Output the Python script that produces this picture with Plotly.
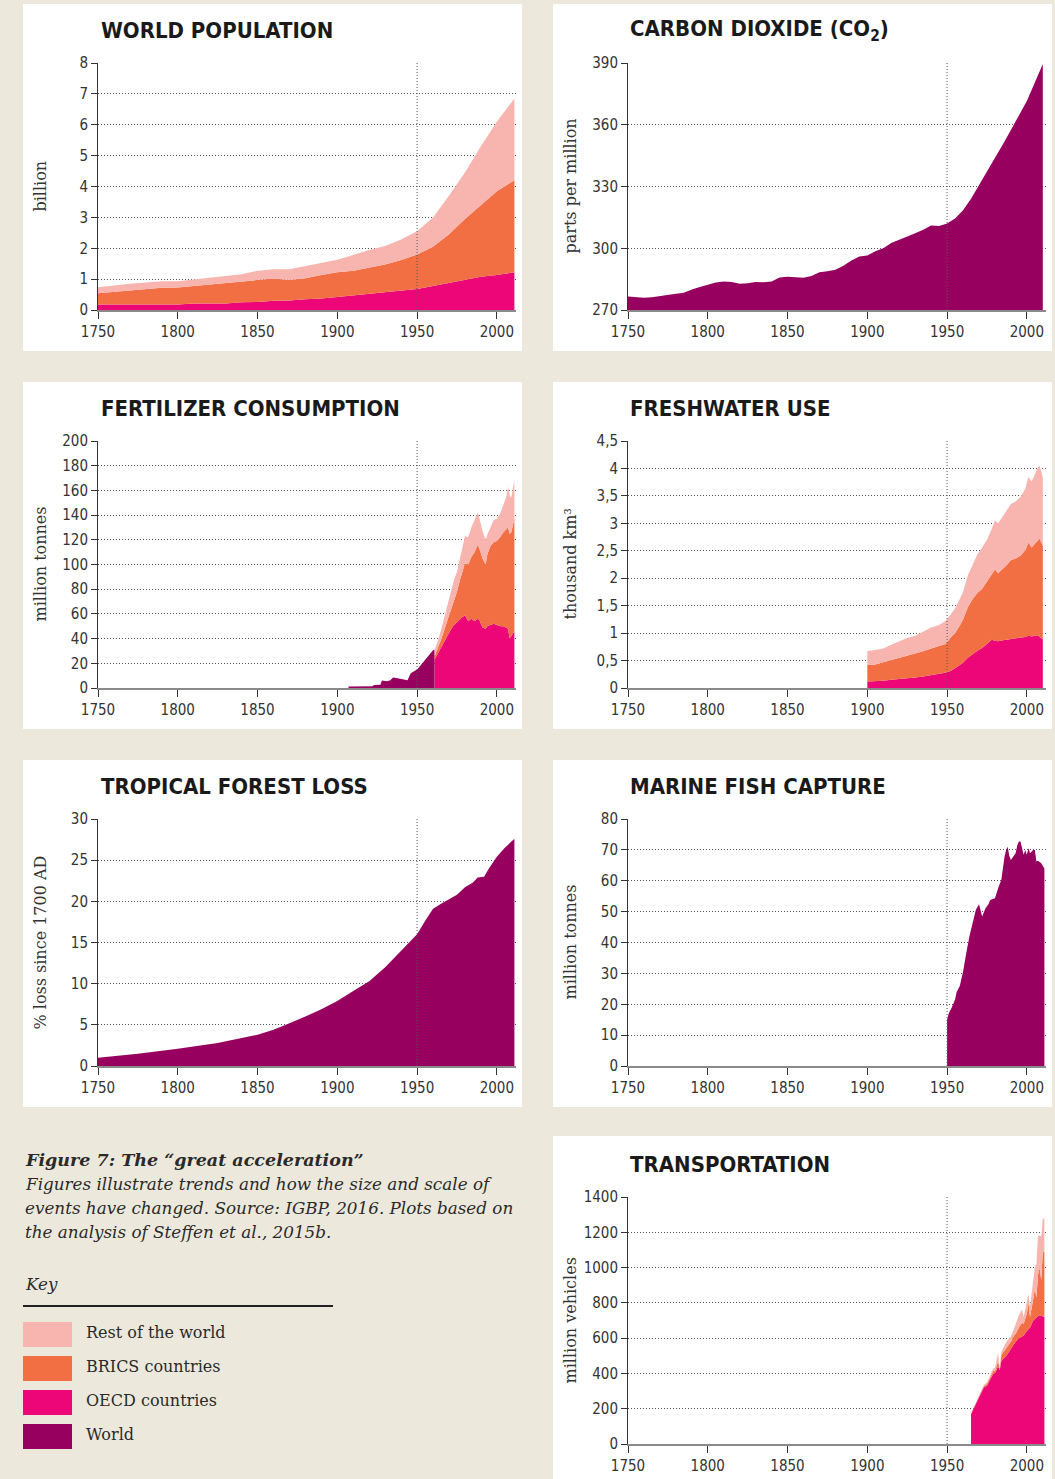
import plotly.graph_objects as go

# ---------------- DATA ----------------
series_names = ["Rest of the world", "BRICS countries", "OECD countries", "World"]
series_colors = ["#F8B4AF", "#F26E43", "#EC0677", "#98005F"]

# World population (billion)
pop_years = [1750, 1760, 1770, 1780, 1790, 1800, 1810, 1820, 1830, 1840, 1850, 1860, 1870, 1880,
             1890, 1900, 1910, 1920, 1930, 1940, 1950, 1960, 1970, 1980, 1990, 2000, 2011]
pop_oecd = [0.18, 0.18, 0.18, 0.18, 0.18, 0.18, 0.21, 0.21, 0.21, 0.25, 0.26, 0.30, 0.31, 0.35,
            0.37, 0.42, 0.47, 0.52, 0.57, 0.62, 0.68, 0.78, 0.88, 0.99, 1.08, 1.13, 1.22]
pop_brics = [0.36, 0.41, 0.46, 0.50, 0.54, 0.55, 0.57, 0.62, 0.66, 0.67, 0.71, 0.72, 0.66, 0.68,
             0.76, 0.80, 0.80, 0.85, 0.90, 1.00, 1.12, 1.27, 1.57, 1.96, 2.32, 2.72, 2.98]
pop_rest = [0.20, 0.21, 0.21, 0.21, 0.21, 0.20, 0.21, 0.21, 0.23, 0.24, 0.30, 0.30, 0.35, 0.39,
            0.40, 0.41, 0.51, 0.57, 0.60, 0.66, 0.75, 0.95, 1.25, 1.50, 1.90, 2.25, 2.65]

# Carbon dioxide (ppm)
co2_years = [1750, 1755, 1760, 1765, 1770, 1775, 1780, 1785, 1790, 1795, 1800, 1805, 1810, 1815,
             1820, 1825, 1830, 1835, 1840, 1845, 1850, 1855, 1860, 1865, 1870, 1875, 1880, 1885,
             1890, 1895, 1900, 1905, 1910, 1915, 1920, 1925, 1930, 1935, 1940, 1945, 1950, 1955,
             1960, 1965, 1970, 1975, 1980, 1985, 1990, 1995, 2000, 2005, 2010]
co2_ppm = [276.5, 276.3, 276.0, 276.2, 276.8, 277.6, 277.9, 278.4, 280.0, 281.2, 282.3, 283.3,
           283.8, 283.6, 282.8, 283.0, 283.6, 283.5, 283.8, 285.8, 286.2, 285.8, 285.7, 286.5,
           288.3, 288.8, 289.5, 291.5, 294.0, 296.0, 296.5, 298.5, 300.0, 302.5, 304.0, 305.5,
           307.3, 309.0, 311.0, 310.8, 312.0, 314.5, 318.5, 324.0, 330.5, 337.0, 344.0, 350.5,
           357.5, 364.5, 371.5, 380.5, 389.5]

# Fertilizer consumption (million tonnes)
fert_world_years = [1907, 1912, 1917, 1922, 1923, 1927, 1928, 1931, 1933, 1935, 1937, 1940, 1942,
                    1944, 1946, 1948, 1950, 1952, 1954, 1956, 1958, 1960, 1961]
fert_world = [1.2, 1.3, 1.3, 1.4, 2.5, 2.6, 6.0, 5.5, 6.0, 8.6, 8.0, 7.0, 6.5, 6.2, 12.0, 13.5,
              15.0, 18.0, 21.0, 24.5, 27.0, 30.5, 31.0]
fert_years = [1961, 1963, 1965, 1967, 1969, 1971, 1973, 1975, 1977, 1979, 1980, 1982, 1984, 1986,
              1988, 1989, 1990, 1991, 1993, 1994, 1996, 1998, 2000, 2002, 2004, 2006, 2007, 2008,
              2009, 2011]
fert_oecd = [23, 28, 33, 38, 43, 47, 51, 53, 56, 58, 59, 54, 56, 54, 56, 55, 52, 49, 48, 50, 51,
             52, 51, 50, 50, 49, 48, 40, 42, 46]
fert_brics = [3, 4, 6, 9, 12, 15, 20, 25, 32, 38, 42, 46, 50, 56, 60, 58, 57, 56, 52, 58, 64,
              66, 68, 72, 76, 80, 82, 85, 84, 91]
fert_rest = [5, 6, 8, 10, 12, 14, 16, 16, 18, 20, 22, 22, 24, 26, 26, 25, 24, 22, 20, 16, 15, 18,
             18, 19, 22, 26, 33, 31, 28, 31]

# Freshwater use (thousand km3)
water_years = [1900, 1905, 1910, 1915, 1920, 1925, 1930, 1935, 1940, 1945, 1949, 1952, 1955, 1958,
               1960, 1963, 1966, 1969, 1972, 1975, 1978, 1980, 1982, 1985, 1988, 1990, 1993, 1996,
               1999, 2001, 2003, 2005, 2007, 2008, 2010]
water_oecd = [0.12, 0.12, 0.13, 0.15, 0.16, 0.18, 0.19, 0.21, 0.23, 0.26, 0.28, 0.31, 0.36, 0.42,
              0.46, 0.55, 0.62, 0.68, 0.73, 0.80, 0.88, 0.86, 0.85, 0.87, 0.88, 0.90, 0.90, 0.91,
              0.93, 0.95, 0.94, 0.95, 0.96, 0.93, 0.89]
water_brics = [0.30, 0.31, 0.34, 0.36, 0.39, 0.41, 0.43, 0.46, 0.49, 0.50, 0.52, 0.60, 0.64, 0.72,
               0.79, 0.92, 1.00, 1.05, 1.08, 1.14, 1.20, 1.30, 1.24, 1.30, 1.38, 1.43, 1.46, 1.50,
               1.58, 1.70, 1.62, 1.68, 1.74, 1.79, 1.70]
water_rest = [0.25, 0.26, 0.25, 0.28, 0.30, 0.32, 0.33, 0.35, 0.38, 0.39, 0.42, 0.42, 0.45, 0.48,
              0.50, 0.58, 0.62, 0.70, 0.75, 0.76, 0.82, 0.89, 0.91, 0.96, 1.00, 1.02, 1.04, 1.07,
              1.12, 1.20, 1.20, 1.27, 1.32, 1.33, 1.25]

# Tropical forest loss (% loss since 1700 AD)
forest_years = [1750, 1775, 1800, 1825, 1850, 1860, 1870, 1880, 1890, 1900, 1910, 1920, 1930, 1940,
                1945, 1950, 1955, 1960, 1965, 1970, 1975, 1980, 1985, 1988, 1992, 1995, 2000, 2005,
                2011]
forest_loss = [1.0, 1.5, 2.1, 2.8, 3.8, 4.4, 5.2, 6.0, 6.9, 7.9, 9.1, 10.3, 12.0, 14.0, 15.0, 16.0,
               17.6, 19.1, 19.7, 20.2, 20.8, 21.7, 22.3, 22.9, 23.0, 24.0, 25.4, 26.5, 27.6]

# Marine fish capture (million tonnes)
fish_years = [1950, 1951, 1953, 1955, 1956, 1958, 1960, 1961, 1962, 1964, 1966, 1967, 1968, 1970,
              1971, 1972, 1974, 1976, 1977, 1980, 1982, 1984, 1986, 1987, 1988, 1989, 1990, 1991,
              1992, 1993, 1994, 1995, 1996, 1997, 1998, 1999, 2000, 2001, 2002, 2003, 2004, 2005,
              2006, 2007, 2009, 2011]
fish_capture = [15.0, 17.0, 19.0, 21.5, 24.0, 26.0, 30.5, 33.0, 36.5, 42.0, 46.0, 47.8, 50.5, 52.4,
                50.0, 48.4, 51.0, 52.5, 53.8, 54.3, 57.6, 60.3, 67.8, 70.0, 71.0, 68.0, 66.7, 67.5,
                68.4, 69.0, 71.5, 72.7, 72.7, 70.0, 68.4, 70.0, 68.4, 70.5, 68.9, 69.5, 70.0, 70.0,
                66.2, 66.5, 65.7, 64.0]

# Transportation (million vehicles)
trans_years = [1965, 1967, 1970, 1973, 1975, 1977, 1979, 1980, 1982, 1983, 1984, 1986, 1988, 1990,
               1992, 1993, 1995, 1997, 1998, 2000, 2001, 2002, 2004, 2005, 2006, 2007, 2008, 2009,
               2010, 2011]
trans_oecd = [170, 210, 260, 320, 330, 370, 400, 400, 440, 420, 470, 490, 510, 540, 570, 580, 600,
              612, 615, 640, 650, 660, 700, 710, 720, 725, 730, 728, 722, 720]
trans_brics = [2, 3, 5, 7, 10, 12, 15, 12, 30, 2, 35, 40, 45, 40, 45, 45, 60, 75, 65, 100, 150, 60,
               120, 170, 110, 235, 270, 200, 370, 365]
trans_rest = [3, 4, 5, 8, 10, 12, 15, 18, 47, 0, 15, 30, 35, 30, 50, 55, 70, 75, 40, 60, 50, 60,
              120, 120, 190, 220, 180, 250, 190, 185]

x_ticks = [1750, 1800, 1850, 1900, 1950, 2000]
x_range = [1750, 2012]

# ---------------- LAYOUT HELPERS ----------------
W, H = 1055, 1479
BG = "#ECE9DC"
COND = "DejaVu Sans Condensed, Liberation Sans Narrow, Arial Narrow, sans-serif"
TICK_FONT = dict(family=COND, size=15, color="#333333")
TITLE_FONT = dict(family=COND, size=22, color="#1a1a1a", weight="bold")
SERIF = "DejaVu Serif, Georgia, serif"
DOT = "1px,2px"


def px(x):
    return x / W


def py(y):
    return 1 - y / H


left_dom = [px(98), px(516)]
right_dom = [px(628), px(1046)]
rows = [(63, 310), (441, 688), (819, 1066), (1197, 1444)]

panels = [
    # (col, row, title, ytitle, yrange, ytickvals, yticktext)
    ("L", 0, "WORLD POPULATION", "billion", [0, 8], list(range(0, 9)), None),
    ("R", 0, "CARBON DIOXIDE (CO<sub>2</sub>)", "parts per million", [270, 390],
     [270, 300, 330, 360, 390], None),
    ("L", 1, "FERTILIZER CONSUMPTION", "million tonnes", [0, 200], list(range(0, 201, 20)), None),
    ("R", 1, "FRESHWATER USE", "thousand km³", [0, 4.5], [0, 0.5, 1, 1.5, 2, 2.5, 3, 3.5, 4, 4.5],
     ["0", "0,5", "1", "1,5", "2", "2,5", "3", "3,5", "4", "4,5"]),
    ("L", 2, "TROPICAL FOREST LOSS", "% loss since 1700 AD", [0, 30], list(range(0, 31, 5)), None),
    ("R", 2, "MARINE FISH CAPTURE", "million tonnes", [0, 80], list(range(0, 81, 10)), None),
    ("R", 3, "TRANSPORTATION", "million vehicles", [0, 1400], list(range(0, 1401, 200)), None),
]

fig = go.Figure()
layout = dict(width=W, height=H, margin=dict(l=0, r=0, t=0, b=0, pad=0, autoexpand=False),
              paper_bgcolor=BG, plot_bgcolor="rgba(0,0,0,0)", showlegend=False, shapes=[],
              annotations=[])

panel_boxes = {("L", 0): (23, 4, 522, 351), ("R", 0): (553, 4, 1052, 351),
               ("L", 1): (23, 382, 522, 729), ("R", 1): (553, 382, 1052, 729),
               ("L", 2): (23, 760, 522, 1107), ("R", 2): (553, 760, 1052, 1107),
               ("R", 3): (553, 1136, 1052, 1479)}

for i, (col, row, title, ytitle, yr, ytv, ytt) in enumerate(panels):
    n = "" if i == 0 else str(i + 1)
    top, bot = rows[row]
    xdom = left_dom if col == "L" else right_dom
    x0b, y0b, x1b, y1b = panel_boxes[(col, row)]
    layout["shapes"].append(dict(type="rect", xref="paper", yref="paper", x0=px(x0b), x1=px(x1b),
                                 y0=py(y1b), y1=py(y0b), fillcolor="white", line_width=0,
                                 layer="below"))
    layout["xaxis" + n] = dict(domain=xdom, range=x_range, anchor="y" + n, tickvals=x_ticks,
                               showgrid=False, zeroline=False, showline=True, linecolor="#8a8a8a",
                               linewidth=2, ticks="outside", ticklen=7, tickwidth=1.3,
                               tickcolor="#333333", tickfont=TICK_FONT, fixedrange=True,
                               automargin=False)
    yax = dict(domain=[py(bot), py(top)], range=yr, anchor="x" + n, tickvals=ytv,
               showgrid=True, gridcolor="#555555", griddash=DOT, gridwidth=1, zeroline=False,
               showline=True, linecolor="#333333", linewidth=1, ticks="outside", ticklen=6,
               tickcolor="#333333", tickfont=TICK_FONT, fixedrange=True, automargin=False)
    if ytt:
        yax["ticktext"] = ytt
    layout["yaxis" + n] = yax
    # dotted 1950 reference line
    layout["shapes"].append(dict(type="line", xref="x" + n, yref="y" + n + " domain", x0=1950,
                                 x1=1950, y0=0, y1=1, line=dict(color="#555555", width=1, dash=DOT)))
    # chart title
    tx = 99 if col == "L" else 628
    layout["annotations"].append(dict(text=title, xref="paper", yref="paper", x=px(tx),
                                      y=py(top - 33), xanchor="left", yanchor="middle",
                                      showarrow=False, font=TITLE_FONT))
    # y-axis title
    ax_x = 40 if col == "L" else 570
    layout["annotations"].append(dict(text=ytitle, xref="paper", yref="paper", x=px(ax_x),
                                      y=py((top + bot) / 2), xanchor="center", yanchor="middle",
                                      textangle=-90, showarrow=False,
                                      font=dict(family=SERIF, size=16, color="#333333")))


def area(xref, years, vals, color, stack=None):
    kw = dict(x=years, y=vals, mode="lines", line=dict(width=0, color=color), fillcolor=color,
              xaxis=xref[0], yaxis=xref[1], hoverinfo="skip")
    if stack:
        kw["stackgroup"] = stack
    else:
        kw["fill"] = "tozeroy"
    fig.add_trace(go.Scatter(**kw))


REST, BRICS, OECD, WORLD = series_colors

# population
for vals, c in [(pop_oecd, OECD), (pop_brics, BRICS), (pop_rest, REST)]:
    area(("x", "y"), pop_years, vals, c, stack="pop")
# CO2
area(("x2", "y2"), co2_years, co2_ppm, WORLD)
# fertilizer
area(("x3", "y3"), fert_world_years, fert_world, WORLD)
for vals, c in [(fert_oecd, OECD), (fert_brics, BRICS), (fert_rest, REST)]:
    area(("x3", "y3"), fert_years, vals, c, stack="fert")
# freshwater
for vals, c in [(water_oecd, OECD), (water_brics, BRICS), (water_rest, REST)]:
    area(("x4", "y4"), water_years, vals, c, stack="water")
# forest
area(("x5", "y5"), forest_years, forest_loss, WORLD)
# fish
area(("x6", "y6"), fish_years, fish_capture, WORLD)
# transport
for vals, c in [(trans_oecd, OECD), (trans_brics, BRICS), (trans_rest, REST)]:
    area(("x7", "y7"), trans_years, vals, c, stack="trans")

# ---------------- CAPTION & KEY ----------------
cap_font = dict(family=SERIF, size=16.8, color="#2a2a2a")
layout["annotations"].append(dict(
    text="<b><i>Figure 7: The “great acceleration”</i></b>", xref="paper", yref="paper",
    x=px(23), y=py(1160), xanchor="left", yanchor="middle", showarrow=False,
    font=dict(family=SERIF, size=17.5, color="#2a2a2a")))
for k, line in enumerate(["Figures illustrate trends and how the size and scale of",
                          "events have changed. Source: IGBP, 2016. Plots based on",
                          "the analysis of Steffen et al., 2015b."]):
    layout["annotations"].append(dict(text="<i>" + line + "</i>", xref="paper", yref="paper",
                                      x=px(23), y=py(1184 + 24 * k), xanchor="left",
                                      yanchor="middle", showarrow=False, font=cap_font))
layout["annotations"].append(dict(text="<i>Key</i>", xref="paper", yref="paper", x=px(23),
                                  y=py(1284), xanchor="left", yanchor="middle", showarrow=False,
                                  font=cap_font))
layout["shapes"].append(dict(type="line", xref="paper", yref="paper", x0=px(23), x1=px(333),
                             y0=py(1306), y1=py(1306), line=dict(color="#222222", width=2)))
for k, (name, c) in enumerate(zip(series_names, series_colors)):
    yt = 1322 + 34 * k
    layout["shapes"].append(dict(type="rect", xref="paper", yref="paper", x0=px(23), x1=px(72),
                                 y0=py(yt + 25), y1=py(yt), fillcolor=c, line_width=0))
    layout["annotations"].append(dict(text=name, xref="paper", yref="paper", x=px(84),
                                      y=py(yt + 10), xanchor="left", yanchor="middle",
                                      showarrow=False,
                                      font=dict(family=SERIF, size=16, color="#2a2a2a")))

fig.update_layout(**layout)
fig.write_html("out.html", config={"responsive": False, "displayModeBar": False},
               post_script="document.body.style.margin='0';document.body.style.padding='0';"
                           "document.body.style.overflow='hidden';")
